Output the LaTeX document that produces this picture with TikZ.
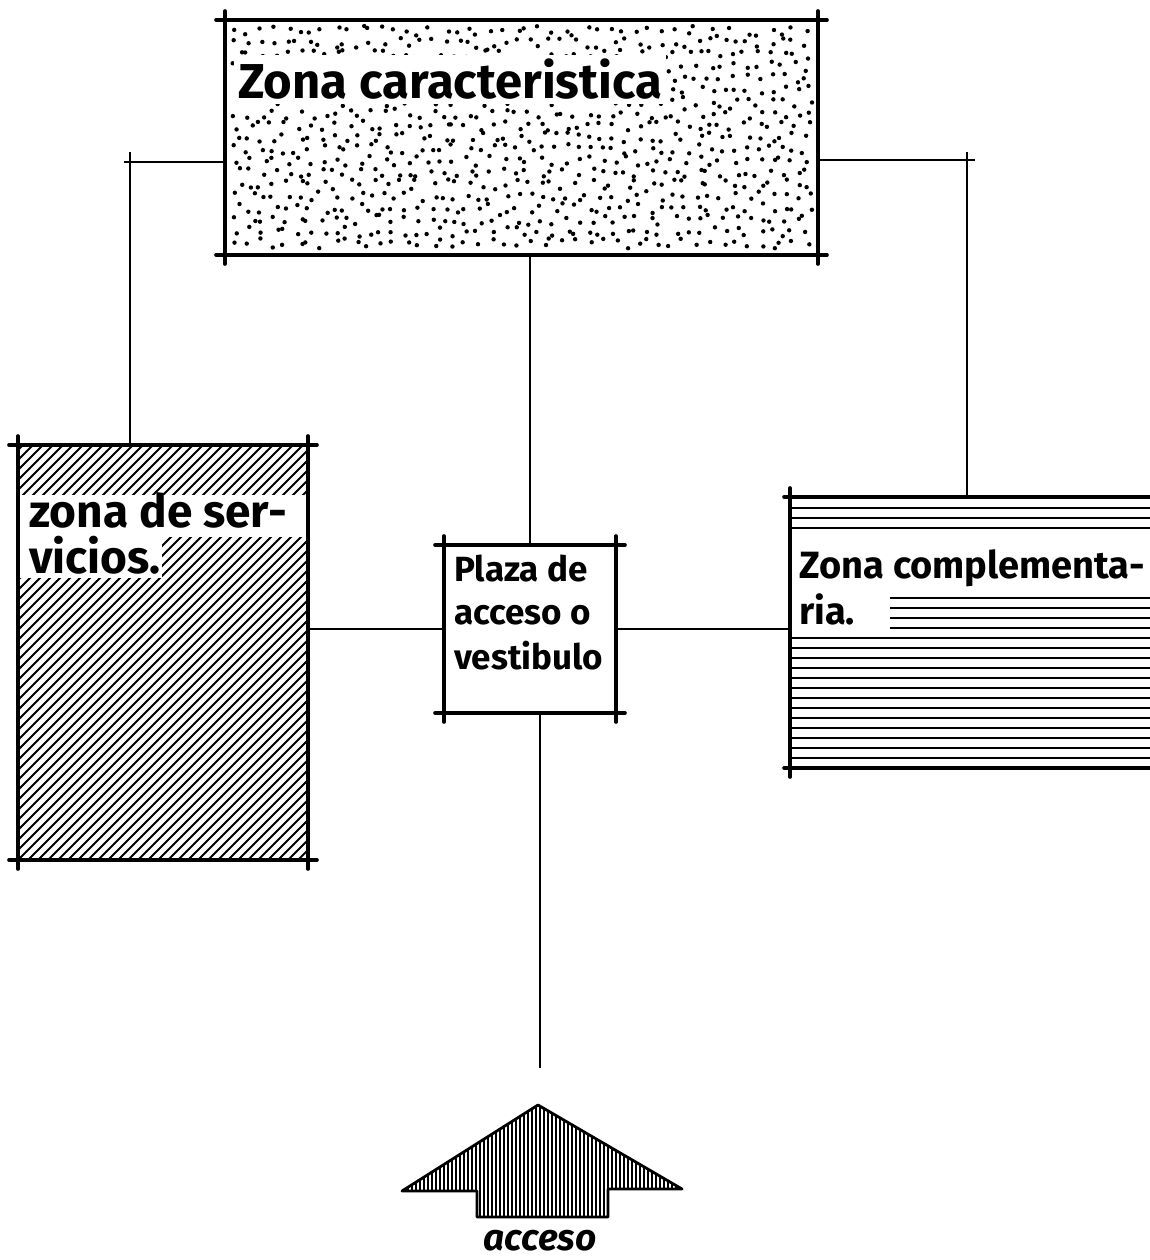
\documentclass[tikz,border=0pt]{standalone}
\usepackage{fontspec}
\setmainfont{Fira Sans}
\begin{document}
\begin{tikzpicture}[x=1pt,y=-1pt,
  zone/.style={draw=none,inner sep=0pt,outer sep=0pt},
  border/.style={line width=3.6pt,line cap=round},
  conn/.style={line width=2.4pt},
  hatch/.style={line width=2pt},
  lbl/.style={anchor=base west,inner sep=1pt,font=\fontsize{34}{40}\selectfont\bfseries},
  white/.style={fill=white,draw=none}]
\useasboundingbox (0,0) rectangle (1150,1260);
\fill[white] (0,0) rectangle (1150,1260);

% ---- zone nodes
\node[zone,minimum width=593pt,minimum height=235pt] (zc) at (521.5,137.5) {};
\node[zone,minimum width=290pt,minimum height=415pt] (zs) at (163,652.5) {};
\node[zone,minimum width=370pt,minimum height=271pt] (zk) at (975,632.5) {};
\node[zone,minimum width=172pt,minimum height=168pt] (pl) at (530,629) {};

% ---- dotted fill of top zone (jittered grid)
\pgfmathsetseed{4321}
\foreach \r in {0,...,18}{
  \foreach \c in {0,...,47}{
    \pgfmathsetmacro\px{238+\c*12.1+rand*5.5}
    \pgfmathsetmacro\py{31+\r*11.8+rand*5}
    \fill (\px,\py) circle (2.2pt);
  }
}
% ---- diagonal hatch of left zone
\begin{scope}
  \clip (zs.north west) rectangle (zs.south east);
  \foreach \k in {-430,-420,...,300}{
    \draw[hatch] (18+\k,860) -- (18+\k+415,445);
  }
\end{scope}
\fill[white] (20,495) rectangle (306,537);
\fill[white] (20,537) rectangle (162,578);
% ---- horizontal lines of right zone
\foreach \k in {0,...,26}{
  \draw[hatch] (790,507.5+\k*10) -- (1150,507.5+\k*10);
}
\fill[white] (792,537) rectangle (1150,591);
\fill[white] (792,591) rectangle (890,634);

% ---- borders with overshooting corners
\foreach \n in {zc,zs,pl}{
  \draw[border] ([xshift=-9pt]\n.north west) -- ([xshift=9pt]\n.north east);
  \draw[border] ([xshift=-9pt]\n.south west) -- ([xshift=9pt]\n.south east);
  \draw[border] ([yshift=9pt]\n.north west) -- ([yshift=-9pt]\n.south west);
  \draw[border] ([yshift=9pt]\n.north east) -- ([yshift=-9pt]\n.south east);
}
\draw[border] ([yshift=9pt]zk.north west) -- ([yshift=-9pt]zk.south west);
\draw[border] ([xshift=-6pt]zk.north west) -- (1150,497);
\draw[border] ([xshift=-6pt]zk.south west) -- (1150,768);

% ---- texts
\node[lbl,fill=white,inner sep=4pt,font=\fontsize{49}{56}\selectfont\bfseries] (tzc) at (234,99) {Zona caracteristica};
\node[lbl,font=\fontsize{46}{52}\selectfont\bfseries] (tzs1) at (28,527) {zona de ser-};
\node[lbl,font=\fontsize{46}{52}\selectfont\bfseries] (tzs2) at (28,573) {vicios.};
\node[lbl,font=\fontsize{38}{44}\selectfont\bfseries] (tzk1) at (798,578) {Zona complementa-};
\node[lbl,font=\fontsize{38}{44}\selectfont\bfseries] (tzk2) at (798,624) {ria.};
\node[lbl,font=\fontsize{35}{40}\selectfont\bfseries] (tp1) at (453,581) {Plaza de};
\node[lbl,font=\fontsize{35}{40}\selectfont\bfseries] (tp2) at (453,624) {acceso o};
\node[lbl,font=\fontsize{35}{40}\selectfont\bfseries] (tp3) at (453,669) {vestibulo};

% ---- connectors
\coordinate (lj) at (130,162);
\coordinate (rj) at (967,160);
\draw[conn] (zc.west |- lj) -- ([xshift=-6pt]lj);
\draw[conn] ([yshift=10pt]lj) -- (lj |- zs.north);
\draw[conn] (zc.east |- rj) -- ([xshift=8pt]rj);
\draw[conn] ([yshift=8pt]rj) -- (rj |- zk.north);
\draw[conn] (pl.north) -- (pl.north |- zc.south);
\draw[conn] (pl.west) -- (pl.west -| zs.east);
\draw[conn] (pl.east) -- (pl.east -| zk.west);
\coordinate (acc) at (540,1068);
\draw[conn] (pl.south -| acc) -- (acc);

% ---- access arrow
\coordinate (ap) at (538,1105);
\begin{scope}
  \clip (ap) -- (682,1189) -- (608,1189) -- (608,1217) -- (477,1217) -- (477,1191) -- (402,1191) -- cycle;
  \foreach \k in {400,404,...,686}{
    \draw[line width=1.6pt] (\k,1100) -- (\k,1222);
  }
\end{scope}
\draw[line width=2.8pt,line join=round,line cap=round] (ap) -- (682,1189) -- (608,1189) -- (608,1217) -- (477,1217) -- (477,1191) -- (402,1191) -- cycle;
\node[lbl,inner sep=0pt,font=\fontsize{37}{42}\selectfont\bfseries\itshape,anchor=base] (tacc) at (540,1250) {acceso};
\end{tikzpicture}
\end{document}
